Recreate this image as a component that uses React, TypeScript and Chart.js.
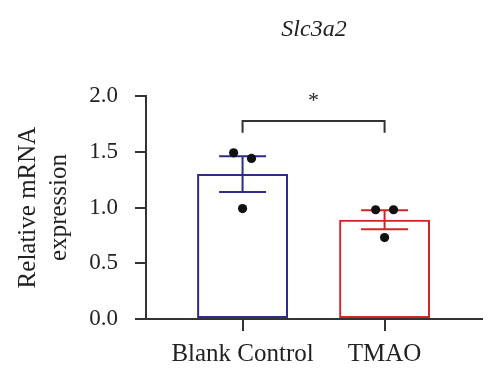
import React, { useEffect, useRef } from "react";
import { Chart, registerables } from "chart.js";

Chart.register(...registerables);

const categories = ["Blank Control", "TMAO"];
const means = [1.3, 0.89];
const sems = [0.16, 0.085];
const blankPoints = [1.49, 1.44, 0.99];
const tmaoPoints = [0.98, 0.98, 0.73];
const yTicks = [0, 0.5, 1.0, 1.5, 2.0];
const titleText = "Slc3a2";
const yTitle = ["Relative mRNA", "expression"];
const sigLabel = "*";
const bracketY = 1.775;
const bracketDrop = 0.105;
const starY = 1.95;

const FONT = '"Liberation Serif", "Times New Roman", serif';
const AXIS = "#333333";
const BAR_COLORS = ["#2e2b8c", "#d42424"];

export default function App() {
  const ref = useRef<HTMLCanvasElement | null>(null);

  useEffect(() => {
    if (!ref.current) return;
    const jitter = [-0.063, 0.063, 0];
    const pts = [
      ...blankPoints.map((v, i) => ({ x: 0 + jitter[i], y: v })),
      ...tmaoPoints.map((v, i) => ({ x: 1 + jitter[i], y: v })),
    ];

    const overlay = {
      id: "overlay",
      afterDatasetDraw(chart: any, args: any) {
        if (args.index !== 0) return;
        const ctx = chart.ctx;
        const xs = chart.scales.x;
        const ys = chart.scales.y;
        ctx.save();
        ctx.lineWidth = 2;
        means.forEach((m, i) => {
          const cx = xs.getPixelForValue(i);
          const yt = ys.getPixelForValue(m + sems[i]);
          const yb = ys.getPixelForValue(m - sems[i]);
          ctx.strokeStyle = BAR_COLORS[i];
          ctx.beginPath();
          ctx.moveTo(cx, yt);
          ctx.lineTo(cx, yb);
          ctx.moveTo(cx - 23.5, yt);
          ctx.lineTo(cx + 23.5, yt);
          ctx.moveTo(cx - 23.5, yb);
          ctx.lineTo(cx + 23.5, yb);
          ctx.stroke();
        });
        ctx.restore();
      },
      afterDraw(chart: any) {
        const ctx = chart.ctx;
        const xs = chart.scales.x;
        const ys = chart.scales.y;
        const area = chart.chartArea;
        ctx.save();
        const x0 = xs.getPixelForValue(0);
        const x1 = xs.getPixelForValue(1);
        const yb = ys.getPixelForValue(bracketY);
        const yd = ys.getPixelForValue(bracketY - bracketDrop);
        ctx.strokeStyle = AXIS;
        ctx.lineWidth = 2;
        ctx.beginPath();
        ctx.moveTo(x0, yd);
        ctx.lineTo(x0, yb);
        ctx.lineTo(x1, yb);
        ctx.lineTo(x1, yd);
        ctx.stroke();
        ctx.fillStyle = "#222";
        ctx.textAlign = "center";
        ctx.textBaseline = "middle";
        ctx.font = `22px ${FONT}`;
        ctx.fillText(sigLabel, xs.getPixelForValue(0.5), ys.getPixelForValue(starY));
        ctx.font = `italic 24px ${FONT}`;
        ctx.fillStyle = "#222";
        ctx.fillText(titleText, (area.left + area.right) / 2, 30);
        ctx.restore();
      },
    };

    const chart = new Chart(ref.current, {
      type: "bar",
      data: {
        datasets: [
          {
            type: "bar",
            data: means.map((m, i) => ({ x: i, y: m })),
            backgroundColor: "rgba(0,0,0,0)",
            borderColor: BAR_COLORS,
            borderWidth: 2,
            borderSkipped: false,
            barPercentage: 0.64,
            categoryPercentage: 1,
            order: 1,
          } as any,
          {
            type: "scatter",
            data: pts,
            backgroundColor: "#111111",
            borderColor: "#111111",
            pointRadius: 4.6,
            borderWidth: 0,
            order: 0,
          } as any,
        ],
      },
      options: {
        animation: false,
        responsive: false,
        maintainAspectRatio: false,
        events: [],
        layout: { padding: { left: 0, top: 96, right: 18, bottom: 0 } },
        plugins: {
          legend: { display: false },
          tooltip: { enabled: false },
          title: { display: false },
        },
        scales: {
          x: {
            type: "linear",
            min: -0.68,
            max: 1.686,
            offset: false,
            afterBuildTicks: (scale: any) => {
              scale.ticks = categories.map((_, i) => ({ value: i }));
            },
            afterFit: (scale: any) => {
              scale.height = 64;
            },
            grid: {
              offset: false,
              drawOnChartArea: false,
              drawTicks: true,
              tickLength: 12,
              color: AXIS,
              lineWidth: 2,
            },
            border: { display: true, color: AXIS, width: 2 },
            ticks: {
              autoSkip: false,
              maxRotation: 0,
              padding: 8,
              color: "#222",
              font: { family: FONT, size: 25 },
              callback: (v: any) => categories[Math.round(Number(v))] ?? "",
            },
          },
          y: {
            type: "linear",
            min: 0,
            max: 2,
            afterBuildTicks: (scale: any) => {
              scale.ticks = yTicks.map((v) => ({ value: v }));
            },
            afterFit: (scale: any) => {
              scale.width = 146;
            },
            grid: {
              drawOnChartArea: false,
              drawTicks: true,
              tickLength: 11,
              color: AXIS,
              lineWidth: 2,
            },
            border: { display: true, color: AXIS, width: 2 },
            ticks: {
              padding: 17,
              color: "#222",
              font: { family: FONT, size: 23 },
              callback: (v: any) => Number(v).toFixed(1),
            },
            title: {
              display: true,
              text: yTitle,
              color: "#222",
              font: { family: FONT, size: 25, lineHeight: 1.24 },
              padding: { top: 13, bottom: 0 },
            },
          },
        },
      },
      plugins: [overlay],
    });
    return () => chart.destroy();
  }, []);

  return (
    <div style={{ position: "fixed", left: 0, top: 0, width: 500, height: 383, background: "#fff" }}>
      <canvas ref={ref} width={500} height={383} style={{ width: 500, height: 383 }} />
    </div>
  );
}
